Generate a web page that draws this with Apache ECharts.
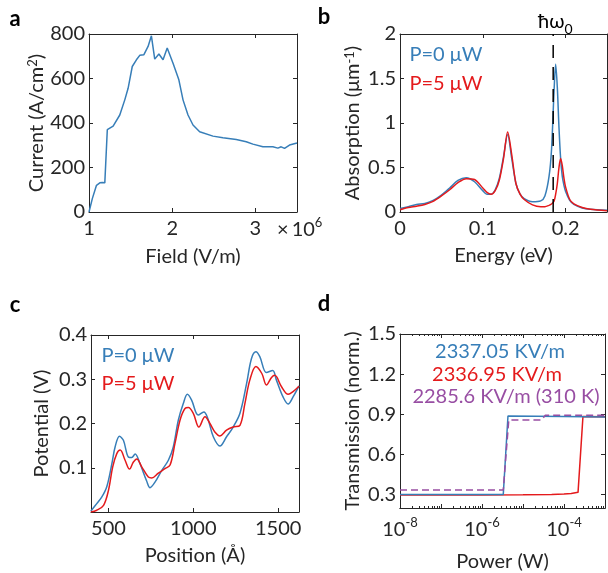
<!DOCTYPE html>
<html>
<head>
<meta charset="utf-8">
<script src="https://cdn.jsdelivr.net/npm/echarts@6/dist/echarts.min.js"></script>
<style>
html, body { margin: 0; padding: 0; background: #fff; }
#chart { width: 608px; height: 573px; }
</style>
</head>
<body>
<div id="chart"></div>
<script>
// panel a: current vs field (x in units of 1e6 V/m)
const fieldA = [1.0, 1.04, 1.09, 1.13, 1.16, 1.19, 1.22, 1.29, 1.37, 1.43, 1.47, 1.52, 1.57, 1.61, 1.66, 1.71, 1.75, 1.79, 1.84, 1.89, 1.94, 2.01, 2.08, 2.13, 2.19, 2.25, 2.33, 2.49, 2.61, 2.77, 2.89, 2.97, 3.09, 3.21, 3.27, 3.31, 3.35, 3.41, 3.5]
const currentA = [0, 60, 120, 131, 133, 131, 370, 386, 436, 504, 556, 654, 684, 704, 707, 744, 792, 687, 710, 684, 737, 669, 594, 504, 436, 391, 361, 341, 334, 326, 316, 305, 293, 293, 287, 293, 286, 301, 310]

// panel b: absorption spectra
const energyB = [0, 0.01, 0.02, 0.03, 0.04, 0.05, 0.06, 0.07, 0.08, 0.09, 0.1, 0.105, 0.11, 0.115, 0.12, 0.125, 0.13, 0.135, 0.14, 0.145, 0.15, 0.16, 0.17, 0.175, 0.18, 0.183, 0.186, 0.188, 0.19, 0.192, 0.194, 0.196, 0.198, 0.2, 0.205, 0.21, 0.22, 0.23, 0.25]
const absorbP0 = [0.04, 0.06, 0.085, 0.095, 0.13, 0.19, 0.27, 0.355, 0.385, 0.34, 0.24, 0.2, 0.2, 0.25, 0.38, 0.62, 0.87, 0.6, 0.32, 0.2, 0.15, 0.115, 0.125, 0.18, 0.4, 0.7, 1.35, 1.66, 1.4, 0.95, 0.6, 0.4, 0.3, 0.23, 0.13, 0.085, 0.045, 0.03, 0.02]
const absorbP5 = [0.025, 0.05, 0.065, 0.085, 0.12, 0.18, 0.25, 0.33, 0.375, 0.365, 0.27, 0.22, 0.2, 0.24, 0.36, 0.6, 0.9, 0.64, 0.32, 0.2, 0.14, 0.08, 0.06, 0.06, 0.075, 0.09, 0.12, 0.2, 0.32, 0.5, 0.6, 0.52, 0.38, 0.28, 0.14, 0.09, 0.05, 0.03, 0.015]
const hbarOmega0 = 0.185

// panel c: potential profiles
const positionP0 = [396, 431, 461, 490, 520, 539, 565, 588, 618, 637, 657, 686, 725, 745, 775, 814, 853, 882, 912, 941, 965, 990, 1029, 1062, 1085, 1118, 1157, 1196, 1235, 1275, 1314, 1343, 1369, 1392, 1431, 1468, 1490, 1529, 1559, 1588, 1623]
const potentialP0 = [0.002, 0.019, 0.034, 0.057, 0.109, 0.147, 0.171, 0.162, 0.124, 0.123, 0.131, 0.109, 0.07, 0.055, 0.068, 0.094, 0.117, 0.147, 0.208, 0.245, 0.266, 0.253, 0.219, 0.226, 0.212, 0.17, 0.149, 0.17, 0.192, 0.223, 0.29, 0.347, 0.362, 0.351, 0.315, 0.32, 0.298, 0.26, 0.244, 0.26, 0.285]
const positionP5 = [396, 431, 471, 500, 525, 549, 569, 598, 624, 647, 667, 696, 735, 755, 794, 833, 863, 892, 922, 951, 971, 1000, 1033, 1069, 1098, 1127, 1157, 1196, 1235, 1275, 1304, 1333, 1369, 1404, 1431, 1461, 1480, 1520, 1559, 1588, 1623]
const potentialP5 = [0, 0.004, 0.015, 0.049, 0.102, 0.132, 0.14, 0.117, 0.097, 0.113, 0.12, 0.102, 0.079, 0.077, 0.088, 0.098, 0.106, 0.155, 0.208, 0.234, 0.236, 0.223, 0.192, 0.215, 0.2, 0.181, 0.172, 0.185, 0.192, 0.196, 0.245, 0.298, 0.329, 0.313, 0.287, 0.304, 0.309, 0.283, 0.266, 0.272, 0.284]

// panel d: transmission vs power
const powerBlue = [1e-8, 3.3e-6, 4.3e-6, 1e-4, 1e-3]
const transBlue = [0.3, 0.3, 0.887, 0.884, 0.88]
const powerRed = [1e-8, 1e-6, 1e-5, 5e-5, 1e-4, 1.5e-4, 2.2e-4, 2.9e-4, 1e-3]
const transRed = [0.298, 0.298, 0.299, 0.301, 0.304, 0.308, 0.317, 0.884, 0.882]
const powerPurple = [1e-8, 3.3e-6, 4.5e-6, 2.8e-5, 3.5e-5, 1e-3]
const transPurple = [0.335, 0.335, 0.857, 0.857, 0.893, 0.893]

// tick labels
const ticksAx = [1, 2, 3]
const ticksAy = [0, 200, 400, 600, 800]
const ticksBx = [0, 0.1, 0.2]
const ticksBy = [0, 0.5, 1, 1.5, 2]
const ticksCx = [500, 1000, 1500]
const ticksCy = [0.1, 0.2, 0.3, 0.4]
const ticksDy = [0.3, 0.6, 0.9, 1.2, 1.5]

const BLUE = '#377eb8'
const RED = '#e41a1c'
const PURPLE = '#984ea3'
const INK = '#262626'
const FONT = 'Lato'

const pairs = (xs, ys) => xs.map((x, i) => [x, ys[i]])

const supRich = {
  s: { fontSize: 13, fontFamily: FONT, color: INK, verticalAlign: 'top', lineHeight: 14 }
}

function tickLabel(ticks, margin, formatter) {
  return { customValues: ticks, color: INK, fontSize: 20, fontFamily: FONT, margin: margin, formatter: formatter || (v => String(v)) }
}

function mainAxis(grid, pos, min, max, ticks, name, nameGap, fmt) {
  return {
    gridIndex: grid, type: 'value', position: pos, min: min, max: max,
    axisLine: { onZero: false, lineStyle: { color: INK, width: 1 } },
    axisTick: { inside: true, length: 4, customValues: ticks, lineStyle: { color: INK } },
    axisLabel: tickLabel(ticks, pos === 'left' ? 4 : 7, fmt),
    splitLine: { show: false },
    name: name, nameLocation: 'middle', nameGap: nameGap,
    nameTextStyle: { color: INK, fontSize: 20, fontFamily: FONT, rich: supRich }
  }
}

function mirrorAxis(grid, pos, min, max, ticks, len) {
  return {
    gridIndex: grid, type: 'value', position: pos, min: min, max: max,
    axisLine: { onZero: false, lineStyle: { color: INK, width: 1 } },
    axisTick: { inside: true, length: len || 4, customValues: ticks, lineStyle: { color: INK } },
    axisLabel: { show: false },
    splitLine: { show: false }
  }
}

// tick positions for the log axis, in decades
const decadeTicks = []
const minorTicks = []
for (let e = -8; e <= -3; e++) {
  decadeTicks.push(e)
  if (e < -3) for (let k = 2; k <= 9; k++) minorTicks.push(e + Math.log10(k))
}

const xAxes = [
  mainAxis(0, 'bottom', 1, 3.5, ticksAx, 'Field (V/m)', 35),
  mirrorAxis(0, 'top', 1, 3.5, ticksAx),
  mainAxis(1, 'bottom', 0, 0.25, ticksBx, 'Energy (eV)', 34, v => String(+v.toFixed(2))),
  mirrorAxis(1, 'top', 0, 0.25, ticksBx),
  mainAxis(2, 'bottom', 397, 1623, ticksCx, 'Position (Å)', 34),
  mirrorAxis(2, 'top', 397, 1623, ticksCx),
  {
    gridIndex: 3, type: 'log', logBase: 10, position: 'bottom', min: 1e-8, max: 1e-3,
    axisLine: { onZero: false, lineStyle: { color: INK, width: 1 } },
    axisTick: { inside: true, length: 4, lineStyle: { color: INK } },
    axisLabel: {
      color: INK, fontSize: 20, fontFamily: FONT, margin: 8,
      formatter: v => {
        const e = Math.round(Math.log10(v))
        return (e % 2 === 0 && e < -3) ? '{b|10}{s|' + e + '}' : ''
      },
      rich: {
        b: { fontSize: 20, fontFamily: FONT, color: INK, lineHeight: 24, verticalAlign: 'bottom' },
        s: { fontSize: 13, fontFamily: FONT, color: INK, lineHeight: 14, verticalAlign: 'top' }
      }
    },
    splitLine: { show: false },
    name: 'Power (W)', nameLocation: 'middle', nameGap: 44,
    nameTextStyle: { color: INK, fontSize: 20, fontFamily: FONT }
  },
  mirrorAxis(3, 'bottom', -8, -3, minorTicks, 2),
  mirrorAxis(3, 'top', -8, -3, decadeTicks),
  mirrorAxis(3, 'top', -8, -3, minorTicks, 2)
]

const yAxes = [
  mainAxis(0, 'left', 0, 800, ticksAy, 'Current (A/cm{s|2})', 42),
  mirrorAxis(0, 'right', 0, 800, ticksAy),
  mainAxis(1, 'left', 0, 2, ticksBy, 'Absorption (μm{s|-1})', 37),
  mirrorAxis(1, 'right', 0, 2, ticksBy),
  mainAxis(2, 'left', 0, 0.4, ticksCy, 'Potential (V)', 39),
  mirrorAxis(2, 'right', 0, 0.4, ticksCy),
  mainAxis(3, 'left', 0.2, 1.5, ticksDy, 'Transmission (norm.)', 37, v => v.toFixed(1)),
  mirrorAxis(3, 'right', 0.2, 1.5, ticksDy)
]

function line(name, xi, yi, data, color, extra) {
  return Object.assign({
    name: name, type: 'line', xAxisIndex: xi, yAxisIndex: yi, data: data,
    showSymbol: false, symbol: 'none', animation: false,
    lineStyle: { color: color, width: 1.5 }, z: 3
  }, extra || {})
}

function label(text, x, y, color, size, weight) {
  return {
    type: 'text', x: x, y: y,
    style: { text: text, fill: color, fontSize: size, fontWeight: weight || 'normal', fontFamily: FONT, align: 'center', verticalAlign: 'middle' }
  }
}

const option = {
  backgroundColor: '#fff',
  animation: false,
  grid: [
    { left: 89, top: 34, width: 208, height: 178 },
    { left: 400, top: 34, width: 207, height: 178 },
    { left: 91, top: 335, width: 208, height: 177 },
    { left: 400, top: 334, width: 207, height: 178 }
  ],
  xAxis: xAxes,
  yAxis: yAxes,
  series: [
    line('Current', 0, 0, pairs(fieldA, currentA), BLUE),
    line('P=0 μW', 2, 2, pairs(energyB, absorbP0), BLUE, { smooth: 0.3 }),
    line('P=5 μW', 2, 2, pairs(energyB, absorbP5), RED, { smooth: 0.3 }),
    line('ħω0', 2, 2, [[hbarOmega0, 0], [hbarOmega0, 2]], '#000', { lineStyle: { color: '#000', width: 1.5, type: [13, 9] }, z: 4 }),
    line('P=0 μW', 4, 4, pairs(positionP0, potentialP0), BLUE, { smooth: 0.35 }),
    line('P=5 μW', 4, 4, pairs(positionP5, potentialP5), RED, { smooth: 0.35 }),
    line('2336.95 KV/m', 6, 6, pairs(powerRed, transRed), RED),
    line('2337.05 KV/m', 6, 6, pairs(powerBlue, transBlue), BLUE),
    line('2285.6 KV/m (310 K)', 6, 6, pairs(powerPurple, transPurple), PURPLE, { lineStyle: { color: PURPLE, width: 1.5, type: [7, 4] } })
  ],
  graphic: [
    label('a', 15, 19, '#000', 22, 'bold'),
    label('b', 324, 17, '#000', 22, 'bold'),
    label('c', 15, 305, '#000', 22, 'bold'),
    label('d', 324, 304, '#000', 22, 'bold'),
    {
      type: 'text', x: 277, y: 216,
      style: {
        text: '{m|×} {b|10}{s|6}', fontFamily: FONT, fill: INK,
        rich: {
          m: { fontSize: 20, fontFamily: FONT, fill: INK, lineHeight: 24, verticalAlign: 'bottom' },
          b: { fontSize: 20, fontFamily: FONT, fill: INK, lineHeight: 24, verticalAlign: 'bottom' },
          s: { fontSize: 13, fontFamily: FONT, fill: INK, lineHeight: 14, verticalAlign: 'top' }
        }
      }
    },
    {
      type: 'text', x: 538, y: 12,
      style: {
        text: '{b|ħω}{s|0}', fontFamily: FONT, fill: '#000',
        rich: {
          b: { fontSize: 20, fontFamily: FONT, fill: '#000', lineHeight: 24, verticalAlign: 'top' },
          s: { fontSize: 14, fontFamily: FONT, fill: '#000', lineHeight: 14, verticalAlign: 'bottom' }
        }
      }
    },
    label('P=0 μW', 446, 55, BLUE, 20),
    label('P=5 μW', 446, 84, RED, 20),
    label('P=0 μW', 138, 356, BLUE, 20),
    label('P=5 μW', 138, 384, RED, 20),
    label('2337.05 KV/m', 500, 352, BLUE, 20),
    label('2336.95 KV/m', 497, 375, RED, 20),
    label('2285.6 KV/m (310 K)', 506, 397, PURPLE, 20)
  ]
}

const chart = echarts.init(document.getElementById('chart'), null, { renderer: 'canvas' })
chart.setOption(option)
</script>
</body>
</html>
